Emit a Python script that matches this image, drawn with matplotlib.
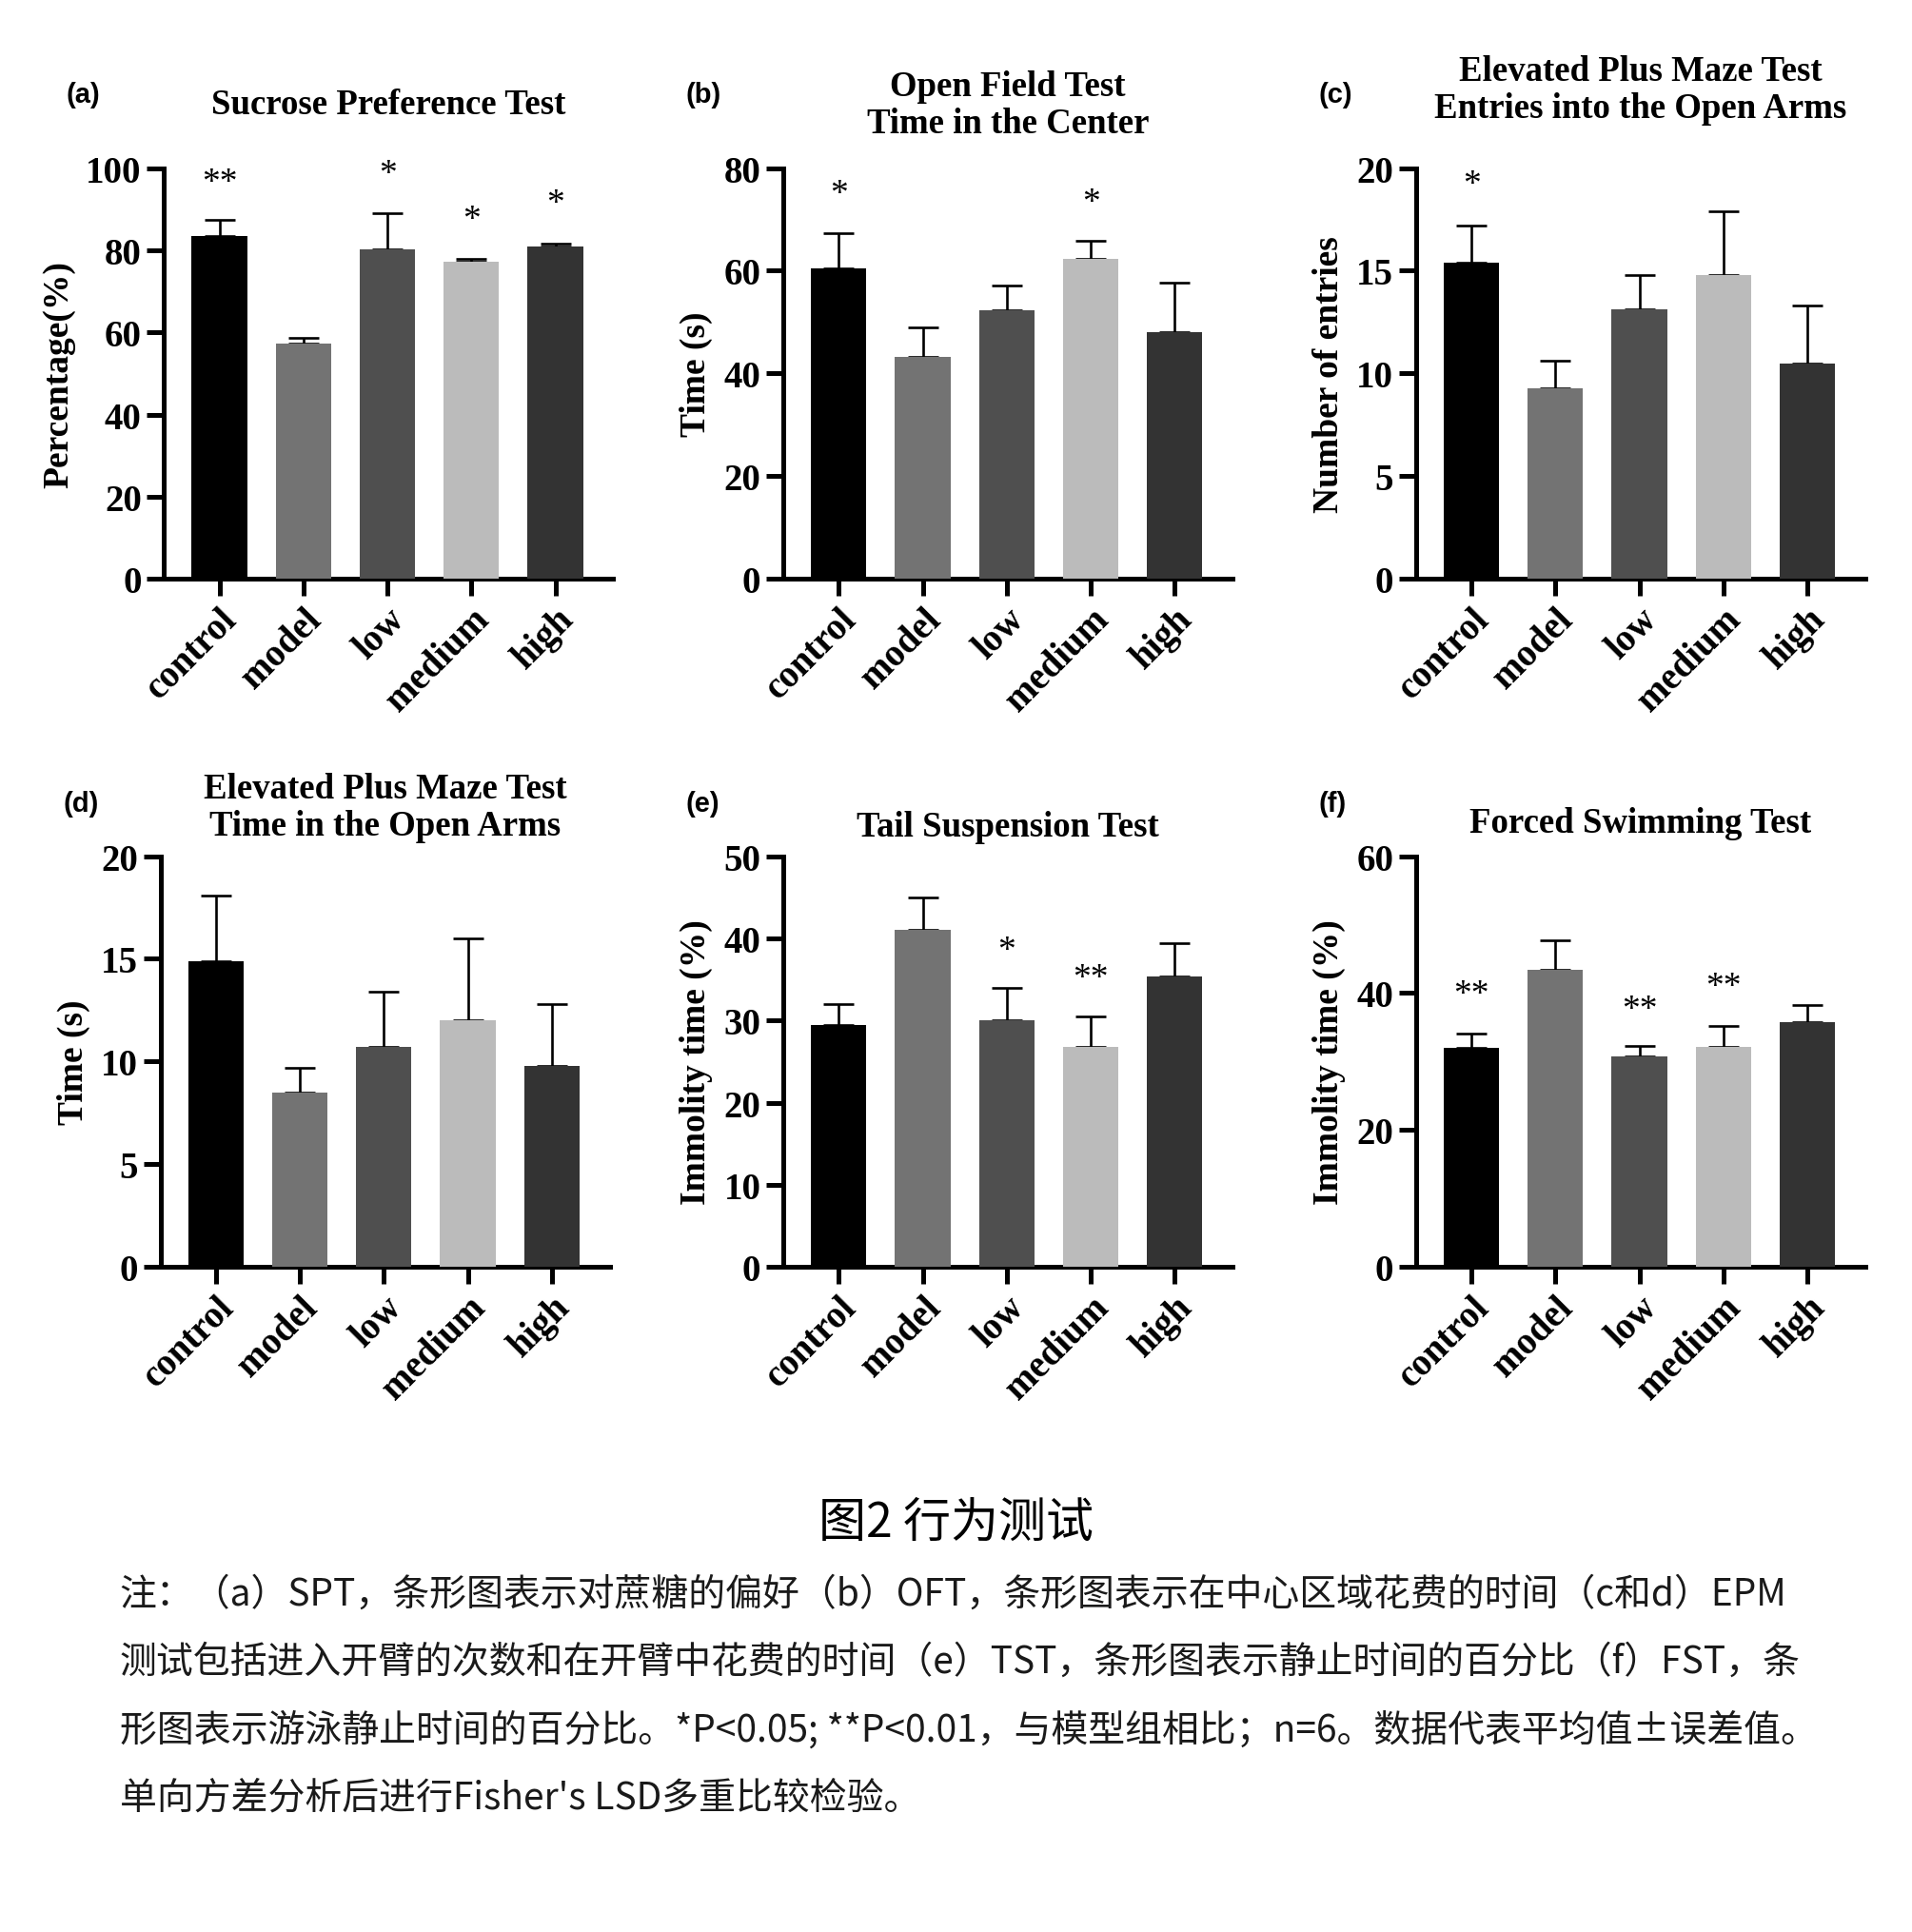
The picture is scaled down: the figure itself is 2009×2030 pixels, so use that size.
import numpy as np
import matplotlib
matplotlib.use("Agg")
import matplotlib.pyplot as plt

# groups and bar colours
groups = ["control", "model", "low", "medium", "high"]
colors = ["#000000", "#737373", "#4f4f4f", "#bbbbbb", "#333333"]

# (a) sucrose preference
spt_mean = [83.5, 57.3, 80.2, 77.3, 80.8]
spt_sem = [3.8, 1.3, 8.8, 0.5, 0.9]
spt_star = ["**", "", "*", "*", "*"]
spt_star_y = [97.9, 0, 100.0, 88.8, 92.8]

# (b) open field, time in the center
oft_mean = [60.4, 43.2, 52.3, 62.4, 48.0]
oft_sem = [7.0, 5.7, 4.9, 3.5, 9.7]
oft_star = ["*", "", "", "*", ""]
oft_star_y = [76.2, 0, 0, 74.5, 0]

# (c) EPM entries into open arms
epm_n_mean = [15.4, 9.3, 13.1, 14.8, 10.5]
epm_n_sem = [1.8, 1.3, 1.7, 3.1, 2.8]
epm_n_star = ["*", "", "", "", ""]
epm_n_star_y = [19.5, 0, 0, 0, 0]

# (d) EPM time in open arms
epm_t_mean = [14.9, 8.5, 10.7, 12.0, 9.8]
epm_t_sem = [3.2, 1.2, 2.7, 4.0, 3.0]
epm_t_star = ["", "", "", "", ""]
epm_t_star_y = [0, 0, 0, 0, 0]

# (e) tail suspension
tst_mean = [29.5, 41.0, 30.0, 26.8, 35.3]
tst_sem = [2.5, 4.0, 4.0, 3.7, 4.1]
tst_star = ["", "", "*", "**", ""]
tst_star_y = [0, 0, 39.2, 35.9, 0]

# (f) forced swimming
fst_mean = [32.0, 43.4, 30.7, 32.2, 35.7]
fst_sem = [2.1, 4.3, 1.6, 3.0, 2.5]
fst_star = ["**", "", "**", "**", ""]
fst_star_y = [40.7, 0, 38.5, 41.8, 0]

panels = [
    ("(a)", "Sucrose Preference Test", "Percentage(%)", spt_mean, spt_sem, spt_star, spt_star_y, 100, 20),
    ("(b)", "Open Field Test\nTime in the Center", "Time (s)", oft_mean, oft_sem, oft_star, oft_star_y, 80, 20),
    ("(c)", "Elevated Plus Maze Test\nEntries into the Open Arms", "Number of entries", epm_n_mean, epm_n_sem, epm_n_star, epm_n_star_y, 20, 5),
    ("(d)", "Elevated Plus Maze Test\nTime in the Open Arms", "Time (s)", epm_t_mean, epm_t_sem, epm_t_star, epm_t_star_y, 20, 5),
    ("(e)", "Tail Suspension Test", "Immolity time (%)", tst_mean, tst_sem, tst_star, tst_star_y, 50, 10),
    ("(f)", "Forced Swimming Test", "Immolity time (%)", fst_mean, fst_sem, fst_star, fst_star_y, 60, 20),
]

lefts = [0.0858, 0.4097, 0.7406, 0.0839, 0.4097, 0.7406]
bottoms = [0.700, 0.700, 0.700, 0.344, 0.344, 0.344]
title_y = [0.9458, 0.9455, 0.953, 0.582, 0.572, 0.574]
label_y = [0.951, 0.951, 0.951, 0.584, 0.584, 0.584]
w, h = 0.235, 0.2126

serif = "Liberation Serif"
fig = plt.figure(figsize=(20.09, 20.31), dpi=100)

for i, (lab, title, ylab, mean, sem, star, star_y, ymax, step) in enumerate(panels):
    ax = fig.add_axes([lefts[i], bottoms[i], w, h])
    x = np.arange(len(groups))
    ax.bar(x, mean, width=0.66, color=colors, zorder=3)
    ax.errorbar(x, mean, yerr=[np.zeros(len(sem)), sem], fmt="none", ecolor="black",
                elinewidth=1.9, capsize=11.5, capthick=1.9, zorder=2)
    for j in range(len(groups)):
        if star[j]:
            ax.annotate(star[j], (x[j], star_y[j]), xytext=(0, -4.5), textcoords="offset points",
                        ha="center", va="center", fontsize=27, family=serif,
                        annotation_clip=False)
    ax.set_xlim(-0.66, 4.69)
    ax.set_ylim(0, ymax)
    ax.set_yticks(np.arange(0, ymax + 0.1, step))
    ax.set_xticks(x)
    ax.set_xticklabels(groups, rotation=45, ha="right", rotation_mode="anchor")
    for t in ax.get_xticklabels() + ax.get_yticklabels():
        t.set_fontfamily(serif)
        t.set_fontweight("bold")
        t.set_fontsize(28)
    ax.spines["top"].set_visible(False)
    ax.spines["right"].set_visible(False)
    ax.spines["left"].set_linewidth(3.6)
    ax.spines["bottom"].set_linewidth(3.6)
    ax.tick_params(axis="both", direction="out", length=13, width=3.6, pad=4)
    ax.set_ylabel(ylab, family=serif, fontweight="bold", fontsize=27, labelpad=8)
    fig.text(lefts[i] + w / 2, title_y[i], title, ha="center", va="center",
             family=serif, fontweight="bold", fontsize=26.5, linespacing=1.15)
    fig.text(lefts[i] - 0.051, label_y[i], lab, ha="left", va="center",
             family="Liberation Sans", fontweight="bold", fontsize=21)

cjk = ["Noto Sans CJK SC", "DejaVu Sans"]
fig.text(0.5, 0.212, "图2 行为测试", ha="center", va="center", family=cjk, fontsize=36)
note_lines = [
    "注：（a）SPT，条形图表示对蔗糖的偏好（b）OFT，条形图表示在中心区域花费的时间（c和d）EPM",
    "测试包括进入开臂的次数和在开臂中花费的时间（e）TST，条形图表示静止时间的百分比（f）FST，条",
    "形图表示游泳静止时间的百分比。*P<0.05; **P<0.01，与模型组相比；n=6。数据代表平均值±误差值。",
    "单向方差分析后进行Fisher's LSD多重比较检验。",
]
note_y = [0.175, 0.140, 0.1047, 0.0695]
for line, yy in zip(note_lines, note_y):
    fig.text(0.0626, yy, line, ha="left", va="center", family=cjk, fontsize=28, color="#1a1a1a")

fig.savefig("out.png", dpi=100, facecolor="white")
